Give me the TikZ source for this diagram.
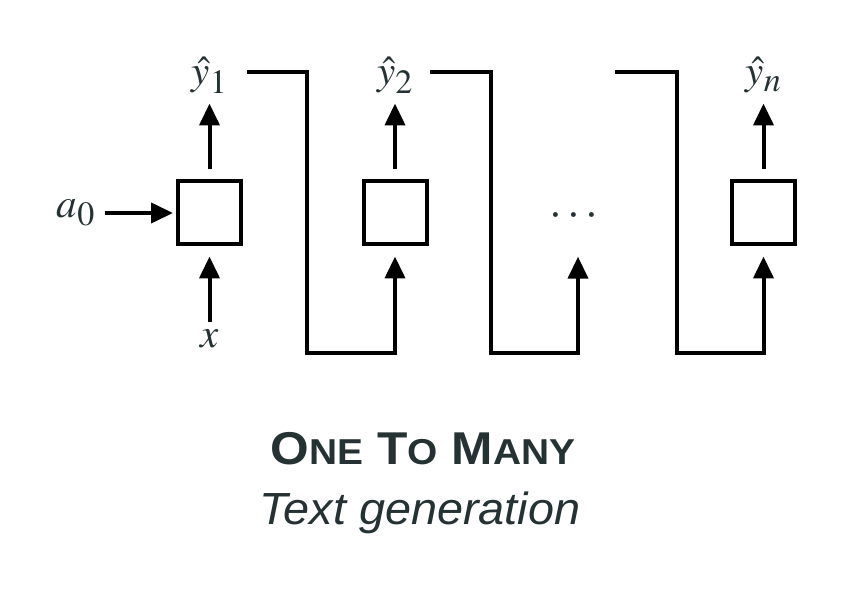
\documentclass[tikz,border=0pt]{standalone}
\usepackage{mathptmx}
\usepackage{fontspec}
\setsansfont{Liberation Sans}
\newfontfamily\titlefont[FakeStretch=1.08]{Liberation Sans}
\newfontfamily\subtitlefont[FakeStretch=1.04]{Liberation Sans}
\usetikzlibrary{arrows.meta, positioning}
\definecolor{labelgray}{RGB}{37, 50, 52}
\DeclareMathSizes{41}{41}{34}{28}
\newcommand{\smallcap}[1]{{\fontsize{36}{38}\selectfont #1}}

\begin{document}
\begin{tikzpicture}[x=1pt, y=1pt,
    cell/.style={draw=black, line width=4pt, minimum size=63pt, inner sep=0pt},
    var/.style={text=labelgray, inner sep=0pt, font=\fontsize{41}{43}\selectfont},
    link/.style={line width=4pt, -{Triangle[length=22pt, width=20pt]}}]
    \useasboundingbox (0,0) rectangle (841,592);

    % --- RNN cells ---
    \node[cell] (cell1) at (209.5,379) {};
    \node[cell] (cell2) at (395,379) {};
    \node[var, minimum height=67pt, minimum width=67pt, font=\fontsize{46}{48}\selectfont] (cell3) at (574,376) {$\cdots$};
    \node[cell] (celln) at (763.5,379) {};

    % --- Inputs and outputs ---
    \node[var, left=81pt of cell1] (a0) {$a_0$};
    \node[var, below=83pt of cell1] (x) {$x$};
    \node[var, above=86pt of cell1] (y1) {$\hat{y}_1$};
    \node[var, above=86pt of cell2] (y2) {$\hat{y}_2$};
    \node[var, above=86pt of celln] (yn) {$\hat{y}_n$};

    \draw[link, shorten <=10pt, shorten >=3pt] (a0) -- (cell1);
    \draw[link, shorten <=7pt, shorten >=10pt] (x) -- (cell1);
    \draw[link, shorten <=10pt, shorten >=10pt] (cell1) -- (y1);
    \draw[link, shorten <=10pt, shorten >=10pt] (cell2) -- (y2);
    \draw[link, shorten <=10pt, shorten >=10pt] (celln) -- (yn);

    % --- Feedback of each output into the next cell ---
    \coordinate (fb1) at (247,520);
    \coordinate (fb2) at (430,520);
    \coordinate (fb3) at (615,520);
    \draw[link, shorten >=10pt] (fb1) -| (307,239) -| (cell2.south);
    \draw[link, shorten >=7pt] (fb2) -| (491,239) -| ([xshift=4pt]cell3.south);
    \draw[link, shorten >=10pt] (fb3) -| (677,239) -| (celln.south);

    % --- Caption ---
    \node[anchor=base, text=labelgray, font=\titlefont\bfseries\fontsize{46}{48}\selectfont] (title) at (423,127)
        {O\smallcap{NE} T\smallcap{O} M\smallcap{ANY}};
    \node[anchor=base, text=labelgray, font=\subtitlefont\itshape\fontsize{45}{47}\selectfont] (subtitle) at (420,67)
        {Text generation};
\end{tikzpicture}
\end{document}
